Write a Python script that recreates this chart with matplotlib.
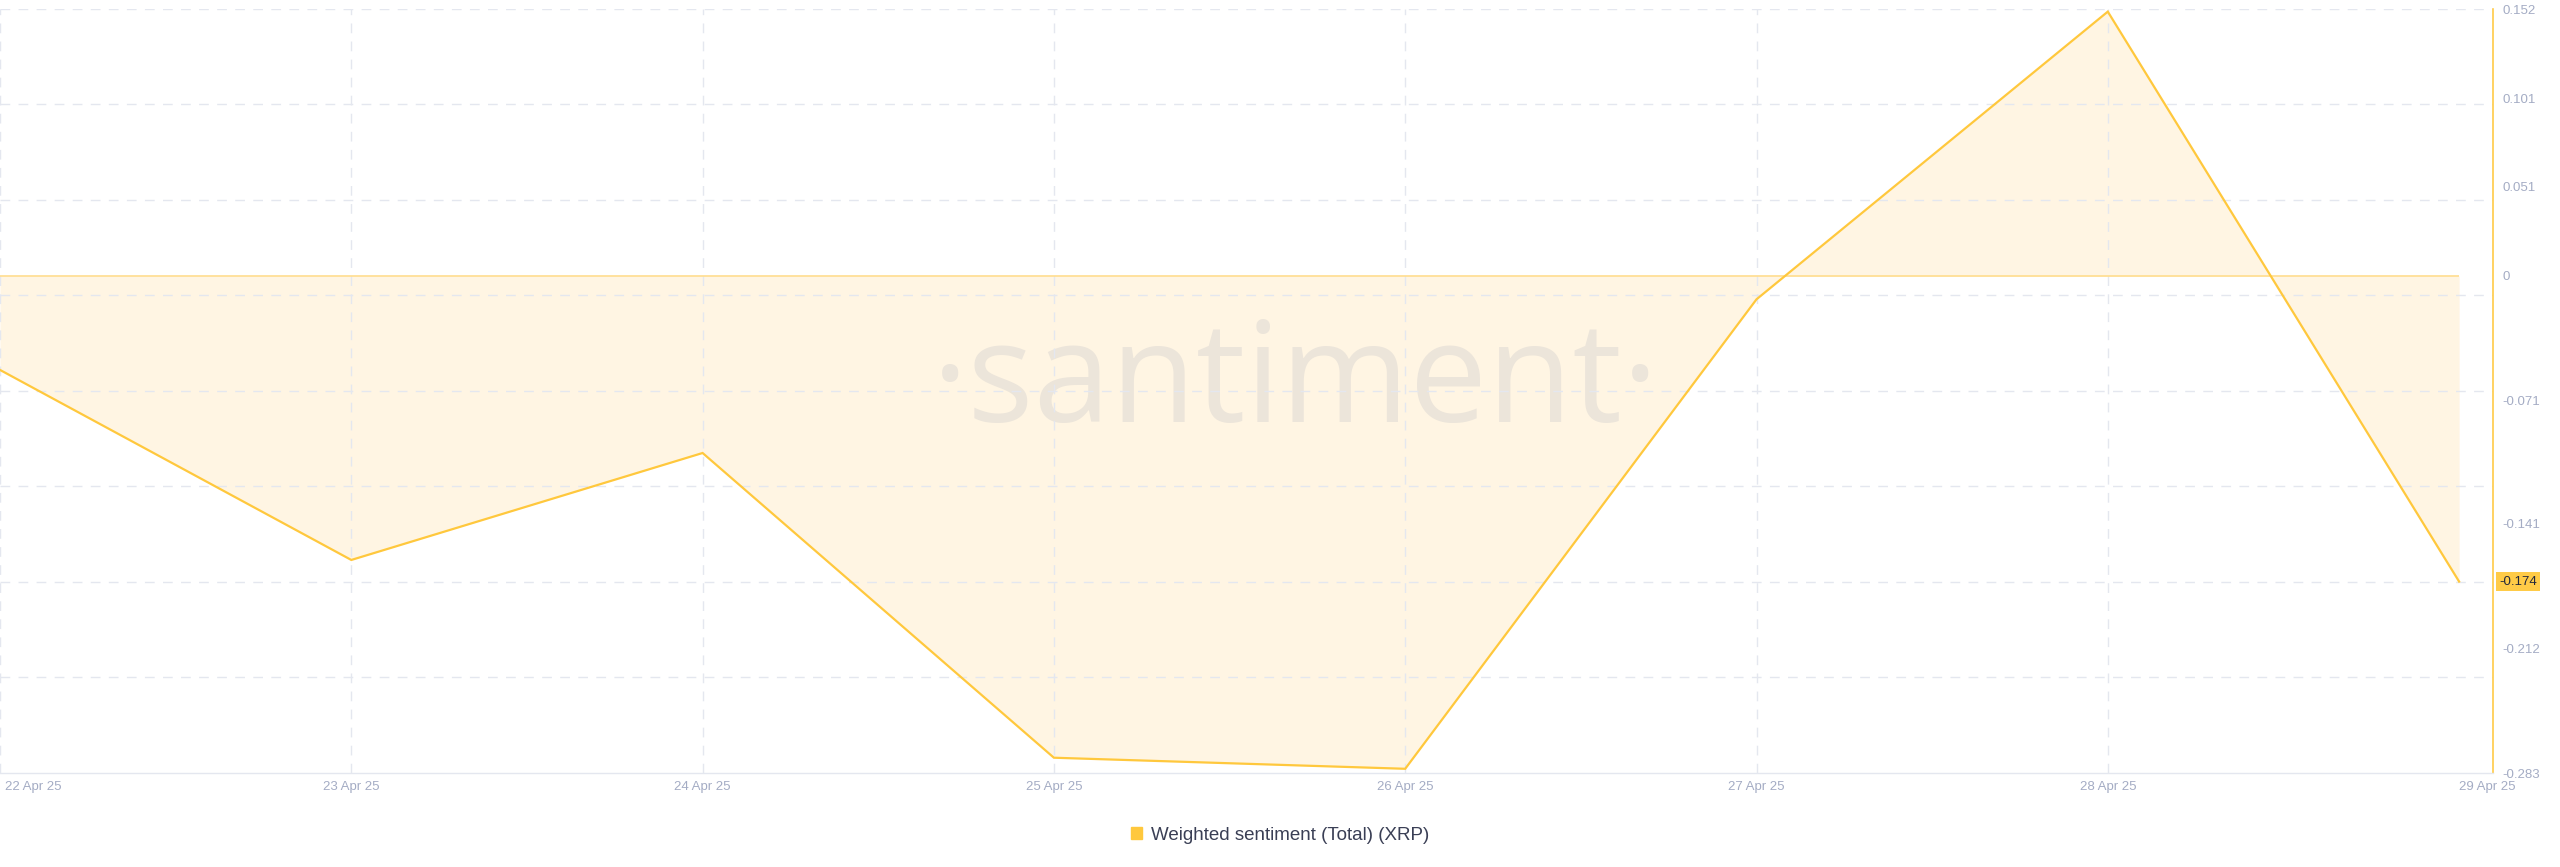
import matplotlib
matplotlib.use('Agg')
import matplotlib.pyplot as plt
import numpy as np
from matplotlib import font_manager as fm
from matplotlib.patches import Patch
from matplotlib.transforms import ScaledTranslation

# ---- data ----
dates = ['22 Apr 25', '23 Apr 25', '24 Apr 25', '25 Apr 25',
         '26 Apr 25', '27 Apr 25', '28 Apr 25', '29 Apr 25']
sentiment = [-0.0535, -0.1617, -0.1008, -0.2743, -0.2806, -0.0133, 0.1505, -0.174]
ytick_values = [0.152, 0.101, 0.051, 0, -0.071, -0.141, -0.212, -0.283]
ytick_labels = ['0.152', '0.101', '0.051', '0', '-0.071', '-0.141', '-0.212', '-0.283']
series_name = 'Weighted sentiment (Total) (XRP)'
last_label = '-0.174'
y_min, y_max = -0.283, 0.152

# ---- style ----
plt.rcParams['font.family'] = ['Liberation Sans', 'DejaVu Sans']
LINE = '#FFC83D'
FILL = '#FFF5E3'
ZERO = '#FFDD8E'
GRID = '#E4E7EF'
TICK = '#A4ACC4'
WM = '#ECE5DA'

def has_font(name):
    try:
        fm.findfont(fm.FontProperties(family=name), fallback_to_default=False)
        return True
    except Exception:
        return False

W, H = 2560, 867
fig = plt.figure(figsize=(W / 100, H / 100), dpi=100)
fig.patch.set_facecolor('white')
ax_left, ax_right, ax_top, ax_bottom = 0, 2493, 9, 773
ax = fig.add_axes([ax_left / W, 1 - ax_bottom / H, (ax_right - ax_left) / W, (ax_bottom - ax_top) / H])
ax.set_facecolor('white')

x = np.arange(len(dates))
day_px = 351.3
ax.set_xlim(0, (ax_right - ax_left) / day_px)
ax.set_ylim(y_min, y_max)

# fill, zero line, series
ax.fill_between(x, sentiment, 0, color=FILL, lw=0, zorder=1)
ax.plot([x[0], x[-1]], [0, 0], color=ZERO, lw=1.2, zorder=3, solid_capstyle='butt')
ax.plot(x, sentiment, color=LINE, lw=1.6, zorder=4, solid_joinstyle='miter')

# grid
for v in np.linspace(y_max, y_min, 9)[:-1]:
    ax.axhline(v, color=GRID, lw=1, dashes=(7, 6), zorder=2)
for xi in x[:-1]:
    ax.axvline(xi, color=GRID, lw=1, dashes=(7, 6), zorder=2)

# watermark
if has_font('Liberation Sans Narrow'):
    wm_family, wm_size = ['Liberation Sans Narrow', 'DejaVu Sans'], 121
else:
    wm_family, wm_size = ['Open Sans', 'DejaVu Sans'], 100
ax.text(1296 / W, 1 - 422 / H, '\u00b7santiment\u00b7', transform=fig.transFigure,
        ha='center', va='baseline', fontsize=wm_size, color=WM,
        family=wm_family, zorder=1.5, clip_on=False)

# spines
for s in ['top', 'left']:
    ax.spines[s].set_visible(False)
ax.spines['bottom'].set_color(GRID)
ax.spines['bottom'].set_linewidth(1)
ax.spines['right'].set_color('#FFCB47')
ax.spines['right'].set_linewidth(1.2)

# x ticks
ax.set_xticks(x)
ax.set_xticklabels(dates)
ax.tick_params(axis='x', length=0, pad=6, labelsize=9.5, labelcolor=TICK)
xl = ax.get_xticklabels()
xl[0].set_ha('left')
xl[0].set_transform(xl[0].get_transform() + ScaledTranslation(5 / 100, 0, fig.dpi_scale_trans))
xl[-1].set_ha('left')

# y ticks on right
ax.yaxis.tick_right()
ax.set_yticks(ytick_values)
ax.set_yticklabels(ytick_labels)
ax.tick_params(axis='y', length=0, pad=6.5, labelsize=9.5, labelcolor=TICK)

# last value badge
ax.annotate(last_label, xy=(1, sentiment[-1]), xycoords=('axes fraction', 'data'),
            xytext=(4.5, 0), textcoords='offset points', ha='left', va='center',
            fontsize=9.5, color='#23283B',
            bbox=dict(boxstyle='square,pad=0.25', fc='#FFCB47', ec='none'),
            annotation_clip=False, zorder=6)

# legend
fig.legend(handles=[Patch(color=LINE)], labels=[series_name], loc='center',
           bbox_to_anchor=(0.5, 1 - 835 / H), frameon=False, fontsize=13.5,
           handlelength=0.6, handleheight=0.6, handletextpad=0.45,
           labelcolor='#3A3F55')

fig.savefig('out.png', dpi=100, facecolor='white')
